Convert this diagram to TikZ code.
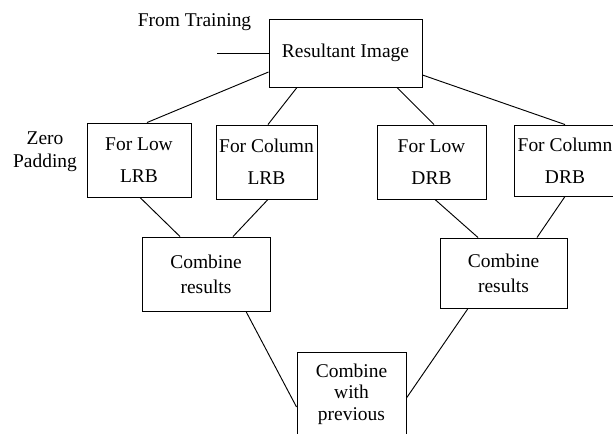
\documentclass[tikz,border=0pt]{standalone}
\usepackage{fontspec}
\setmainfont{Liberation Serif}
\begin{document}
\begin{tikzpicture}[x=0.75pt, y=-0.75pt, line width=0.7pt,
    box/.style={draw, inner sep=0pt, align=center},
    lbl/.style={inner sep=0pt, align=center},
    every node/.style={font=\fontsize{14.6}{17}\selectfont}]
    \useasboundingbox (0,0) rectangle (613,433);
    \clip (0,0) rectangle (613,433);

    % Immagine risultante
    \node[box, minimum width=114.75pt, minimum height=51pt] (res) at (345.5,53) {Resultant Image};
    \node[lbl, anchor=base] (train) at (194.5,26) {From Training};
    \coordinate (trainin) at (217,53);
    \draw (trainin) -- (res.west);

    % Blocchi LRB / DRB
    \node[lbl] (zero) at (45,152) {Zero\\Padding};
    \node[box, minimum width=78pt, minimum height=55.5pt] (lowlrb) at (139,160) {For Low\\[7pt]LRB};
    \node[box, minimum width=75.75pt, minimum height=55.5pt] (collrb) at (266.5,162) {For Column\\[7pt]LRB};
    \node[box, minimum width=81.75pt, minimum height=55.5pt] (lowdrb) at (431.5,162) {For Low\\[7pt]DRB};
    \node[box, minimum width=76.5pt, minimum height=53.25pt] (coldrb) at (565,160.5) {For Column\\[7pt]DRB};

    \draw ([yshift=-14.25pt]res.west) -- ([xshift=6pt]lowlrb.north);
    \draw ([xshift=-36.4pt]res.south) -- ([xshift=1.1pt]collrb.north);
    \draw ([xshift=38.6pt]res.south) -- ([xshift=1.9pt]lowdrb.north);
    \draw ([yshift=-16.5pt]res.east) -- (coldrb.north);

    % Combinazione
    \node[box, minimum width=96pt, minimum height=55.5pt] (comb1) at (206,274) {Combine\\[1.75pt]results};
    \node[box, minimum width=95.25pt, minimum height=52.5pt] (comb2) at (503.5,273) {Combine\\[1.75pt]results};

    \draw ([xshift=0.75pt]lowlrb.south) -- ([xshift=-19.5pt]comb1.north);
    \draw ([xshift=1.1pt]collrb.south) -- ([xshift=20.25pt]comb1.north);
    \draw ([xshift=2.6pt]lowdrb.south) -- ([xshift=-19.1pt]comb2.north);
    \draw (coldrb.south) -- ([xshift=25.1pt]comb2.north);

    % Blocco finale
    \node[box, minimum width=81.75pt, minimum height=63pt] (final) at (351.5,394) {Combine\\[-1pt]with\\[-1pt]previous};
    \draw ([xshift=30pt]comb1.south) -- ([yshift=-9.75pt]final.west);
    \draw ([xshift=-26.6pt]comb2.south) -- ([yshift=-3pt]final.east);
\end{tikzpicture}
\end{document}
